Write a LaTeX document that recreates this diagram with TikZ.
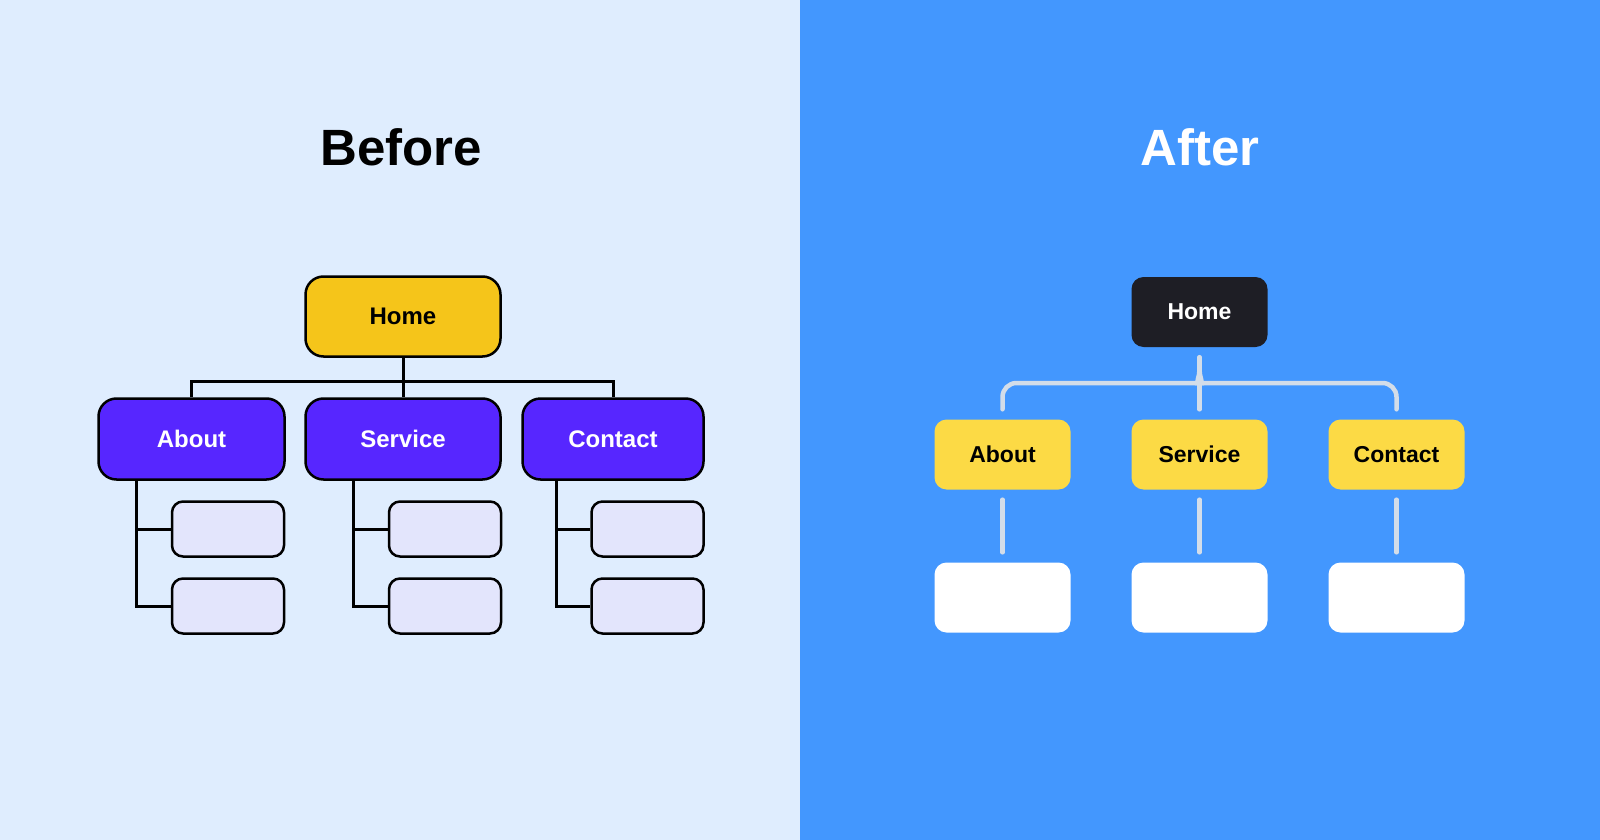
\documentclass[tikz,border=0pt]{standalone}
\usepackage{fontspec}
\setmainfont{Liberation Sans}
\definecolor{beforebg}{HTML}{DFEDFE}
\definecolor{afterbg}{HTML}{4397FE}
\definecolor{homeyellow}{HTML}{F5C51A}
\definecolor{pagepurple}{HTML}{5726FF}
\definecolor{subfill}{HTML}{E3E5FC}
\definecolor{newyellow}{HTML}{FCDA45}
\definecolor{homedark}{HTML}{1E1E25}
\definecolor{linkgray}{HTML}{D3DDE9}
\tikzset{
 title/.style={font=\bfseries\fontsize{51}{56}\selectfont, anchor=base},
 oldbox/.style={draw=black, line width=2.5pt, rounded corners=18pt, inner sep=0pt,
   font=\bfseries\fontsize{24}{28}\selectfont},
 oldpage/.style={oldbox, fill=pagepurple, text=white, minimum height=81pt},
 oldsub/.style={oldbox, fill=subfill, rounded corners=11pt, minimum width=112pt, minimum height=55pt},
 newbox/.style={rounded corners=12pt, inner sep=0pt, minimum width=136pt, minimum height=70pt,
   font=\bfseries\fontsize{23}{27}\selectfont},
 tree/.style={draw=black, line width=3pt},
 link/.style={draw=linkgray, line width=4.5pt, line cap=round},
}

\begin{document}
\begin{tikzpicture}[x=1pt, y=-1pt]
        \useasboundingbox (0,0) rectangle (1600,840);
        \fill [beforebg] (0,0) rectangle (800,840);
        \fill [afterbg] (800,0) rectangle (1600,840);

        % before
        \node [title] (before) at (401,165) {Before};
        \node [oldbox, fill=homeyellow, minimum width=195pt, minimum height=80pt] (home1) at (403,316.5) {Home};
        \node [oldpage, minimum width=186pt] (about1) at (191.5,439) {About};
        \node [oldpage, minimum width=195pt] (service1) at (403,439) {Service};
        \node [oldpage, minimum width=181pt] (contact1) at (613,439) {Contact};
        \node [oldsub] (aboutA) at (228,529) {};
        \node [oldsub] (aboutB) at (228,606) {};
        \node [oldsub] (serviceA) at (445,529) {};
        \node [oldsub] (serviceB) at (445,606) {};
        \node [oldsub] (contactA) at (647.5,529) {};
        \node [oldsub] (contactB) at (647.5,606) {};
        \coordinate (hub1) at (403,381);
        \draw [tree] (home1.south) -- (service1.north);
        \draw [tree] (about1.north) |- (hub1) -| (contact1.north);
        \foreach \col in {about, service, contact} {
            \draw [tree] ([xshift=-34pt]\col A.west |- \col1.south) |- (\col B.west);
            \draw [tree] ([xshift=-34pt]\col A.west) -- (\col A.west);
        }

        % after
        \node [title, text=white] (after) at (1200,165) {After};
        \node [newbox, fill=homedark, text=white] (home2) at (1199.5,312) {Home};
        \node [newbox, fill=newyellow] (about2) at (1002.5,454.5) {About};
        \node [newbox, fill=newyellow] (service2) at (1199.5,454.5) {Service};
        \node [newbox, fill=newyellow] (contact2) at (1396.5,454.5) {Contact};
        \node [newbox, fill=white] (leaf1) at (1002.5,597.5) {};
        \node [newbox, fill=white] (leaf2) at (1199.5,597.5) {};
        \node [newbox, fill=white] (leaf3) at (1396.5,597.5) {};
        \coordinate (brace) at (1199.5,383);
        \coordinate (tip) at (1199.5,370);
        \draw [link, shorten <=10pt, shorten >=10pt] (home2.south) -- (service2.north);
        \draw [link, rounded corners=14pt] ([yshift=10pt]about2.north) |- ([xshift=-15pt]brace)
            .. controls +(11,0) and +(0,7) .. (tip);
        \draw [link, rounded corners=14pt] ([yshift=10pt]contact2.north) |- ([xshift=15pt]brace)
            .. controls +(-11,0) and +(0,7) .. (tip);
        \foreach \i/\col in {1/about, 2/service, 3/contact}
            \draw [link, shorten <=10pt, shorten >=10pt] (\col2.south) -- (leaf\i.north);
    \end{tikzpicture}
\end{document}
